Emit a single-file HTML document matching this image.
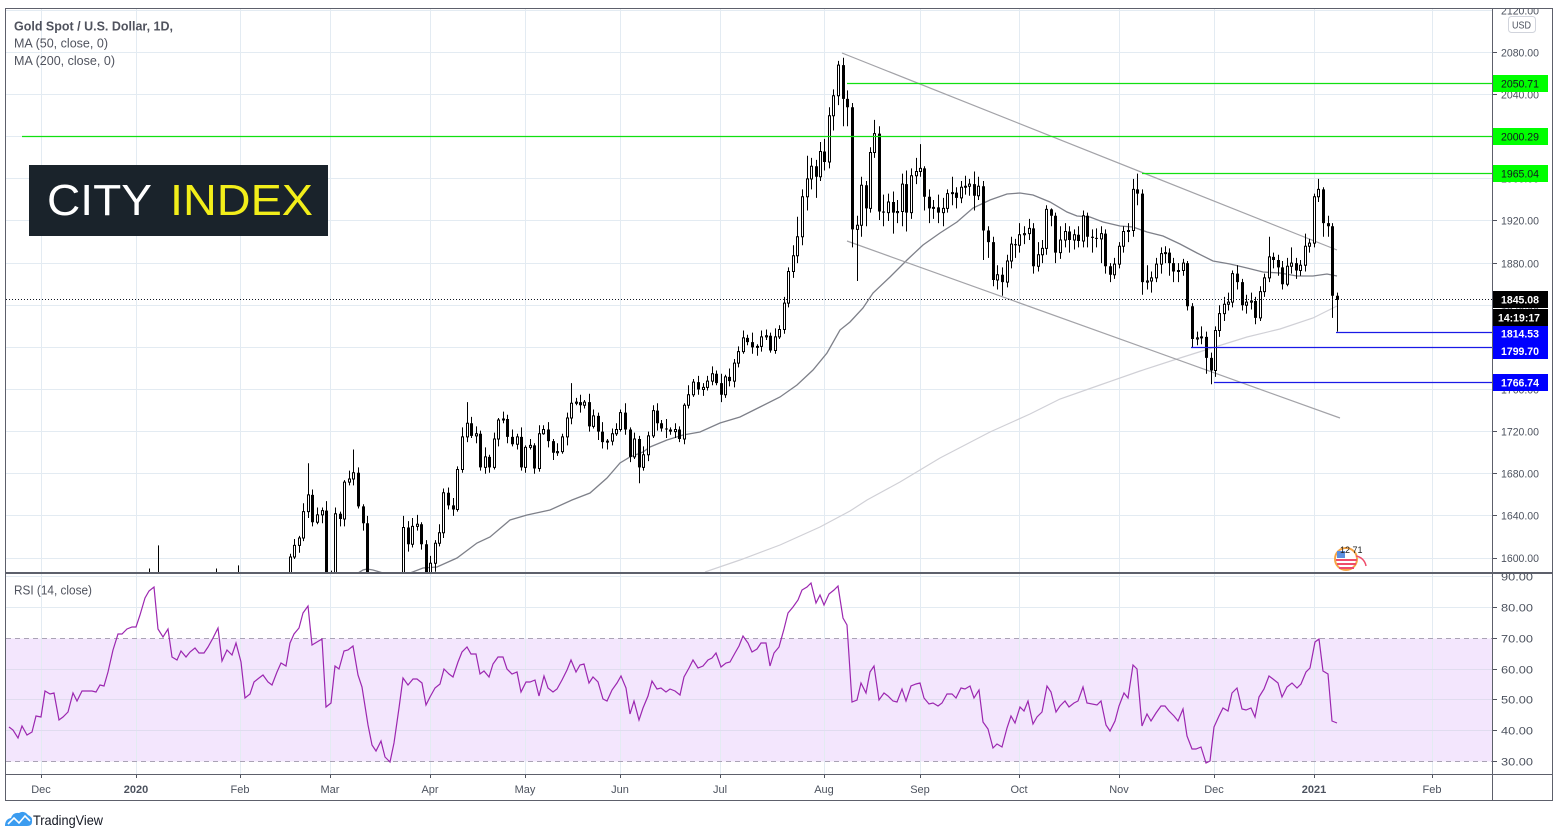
<!DOCTYPE html>
<html><head><meta charset="utf-8">
<style>
html,body{margin:0;padding:0;background:#fff;width:1559px;height:838px;overflow:hidden}
svg{display:block}
text{font-family:"Liberation Sans",sans-serif}
</style></head>
<body>
<svg width="1559" height="838" viewBox="0 0 1559 838" xmlns="http://www.w3.org/2000/svg">
<defs>
<clipPath id="pc"><rect x="6" y="9" width="1486" height="563"/></clipPath>
<clipPath id="rc"><rect x="6" y="574" width="1486" height="200"/></clipPath>
<clipPath id="ac"><rect x="1493" y="9" width="59" height="563"/></clipPath>
<clipPath id="ac2"><rect x="1493" y="574" width="59" height="200"/></clipPath>
</defs>
<rect x="0" y="0" width="1559" height="838" fill="#fff"/>

<rect x="6" y="638.5" width="1486" height="123" fill="#f3e6fd"/>

<g stroke="#e3ebf2" stroke-width="1">
<line x1="41.5" y1="9" x2="41.5" y2="774"/>
<line x1="136.5" y1="9" x2="136.5" y2="774"/>
<line x1="240.5" y1="9" x2="240.5" y2="774"/>
<line x1="330.5" y1="9" x2="330.5" y2="774"/>
<line x1="430.5" y1="9" x2="430.5" y2="774"/>
<line x1="525.5" y1="9" x2="525.5" y2="774"/>
<line x1="620.5" y1="9" x2="620.5" y2="774"/>
<line x1="720.5" y1="9" x2="720.5" y2="774"/>
<line x1="824.5" y1="9" x2="824.5" y2="774"/>
<line x1="920.5" y1="9" x2="920.5" y2="774"/>
<line x1="1019.5" y1="9" x2="1019.5" y2="774"/>
<line x1="1119.5" y1="9" x2="1119.5" y2="774"/>
<line x1="1214.5" y1="9" x2="1214.5" y2="774"/>
<line x1="1314.5" y1="9" x2="1314.5" y2="774"/>
<line x1="1432.5" y1="9" x2="1432.5" y2="774"/>
<line x1="6" y1="10.5" x2="1492" y2="10.5"/>
<line x1="6" y1="52.5" x2="1492" y2="52.5"/>
<line x1="6" y1="94.5" x2="1492" y2="94.5"/>
<line x1="6" y1="136.5" x2="1492" y2="136.5"/>
<line x1="6" y1="178.5" x2="1492" y2="178.5"/>
<line x1="6" y1="220.5" x2="1492" y2="220.5"/>
<line x1="6" y1="263.5" x2="1492" y2="263.5"/>
<line x1="6" y1="305.5" x2="1492" y2="305.5"/>
<line x1="6" y1="347.5" x2="1492" y2="347.5"/>
<line x1="6" y1="389.5" x2="1492" y2="389.5"/>
<line x1="6" y1="431.5" x2="1492" y2="431.5"/>
<line x1="6" y1="473.5" x2="1492" y2="473.5"/>
<line x1="6" y1="515.5" x2="1492" y2="515.5"/>
<line x1="6" y1="558.5" x2="1492" y2="558.5"/>
</g>
<g stroke="#e0dcef" stroke-width="1">
<line x1="6" y1="576.5" x2="1492" y2="576.5" stroke="#e3ebf2"/>
<line x1="6" y1="607.5" x2="1492" y2="607.5" stroke="#e3ebf2"/>
<line x1="6" y1="669.5" x2="1492" y2="669.5"/>
<line x1="6" y1="699.5" x2="1492" y2="699.5"/>
<line x1="6" y1="730.5" x2="1492" y2="730.5"/>
</g>
<g stroke="#aaa3b5" stroke-width="1" stroke-dasharray="5,4">
<line x1="6" y1="638.5" x2="1492" y2="638.5"/>
<line x1="6" y1="761.5" x2="1492" y2="761.5"/>
</g>

<g clip-path="url(#pc)">
<polyline fill="none" stroke="#d0d0d6" stroke-width="1.2" points="705,572 740,560 780,545 820,527 850,511 867,500 900,482 940,458 990,432 1030,414 1060,399 1100,385 1140,371 1180,358 1215,347 1247,337 1280,329 1313,318 1337,306"/>
<polyline fill="none" stroke="#7e8089" stroke-width="1.3" points="358,573 363,570 367,569 373,570 383,573 395,576 410,573 423,568 437,567 457,558 477,543 490,537 510,520 527,515 550,510 572,500 590,493 607,478 620,463 630,457 643,452 650,447 667,440 683,435 700,432 720,423 740,417 760,407 780,397 797,385 813,370 827,353 840,330 850,322 863,308 873,293 890,277 907,260 923,245 940,233 957,222 973,208 990,200 1007,194 1020,193 1033,195 1050,202 1067,212 1077,216 1090,217 1103,222 1120,226 1133,227 1147,232 1163,236 1180,244 1197,253 1213,261 1230,264 1247,268 1263,272 1280,273 1297,276 1313,276 1327,274 1337,276"/>
<line x1="842" y1="53" x2="1337" y2="250" stroke="#a3a3a8" stroke-width="1.2"/>
<line x1="847" y1="241" x2="1340" y2="418" stroke="#a3a3a8" stroke-width="1.2"/>

<g transform="matrix(1 0 0 -1.0531 0 2242.96)">
<path fill="none" stroke="#000" stroke-width="1" vector-effect="non-scaling-stroke" d="M149.5 1590V1570M158.5 1612V1570M216.5 1590V1570M238.5 1593V1570M290.5 1604V1581M294.5 1618V1599M299.5 1621V1605M303.5 1652V1616M308.5 1690V1638M312.5 1665V1630M317.5 1648V1632M322.5 1648V1633M326.5 1654V1575M331.5 1588V1580M335.5 1648V1584M340.5 1644V1630M344.5 1674V1630M349.5 1683V1669M353.5 1703V1669M358.5 1686V1647M363.5 1651V1626M367.5 1640V1570M403.5 1640V1555M408.5 1635V1606M412.5 1638V1610M417.5 1641V1626M421.5 1634V1608M426.5 1617V1572M430.5 1602V1575M435.5 1617V1587M439.5 1632V1611M443.5 1666V1619M448.5 1667V1646M453.5 1657V1640M457.5 1687V1644M462.5 1724V1681M467.5 1748V1710M471.5 1734V1714M476.5 1725V1709M480.5 1721V1683M485.5 1705V1680M489.5 1698V1681M494.5 1719V1684M498.5 1733V1706M503.5 1739V1728M507.5 1736V1709M512.5 1722V1706M517.5 1718V1703M521.5 1724V1683M525.5 1707V1681M530.5 1713V1703M534.5 1709V1680M539.5 1726V1682M543.5 1726V1717M548.5 1729V1705M553.5 1713V1693M557.5 1709V1697M562.5 1718V1699M567.5 1738V1707M571.5 1766V1727M576.5 1752V1745M580.5 1755V1738M584.5 1750V1742M589.5 1756V1720M593.5 1741V1723M598.5 1738V1712M602.5 1729V1704M607.5 1713V1703M612.5 1723V1707M616.5 1728V1716M620.5 1741V1720M625.5 1747V1717M630.5 1724V1691M634.5 1719V1694M639.5 1716V1671M643.5 1706V1683M648.5 1720V1692M653.5 1745V1714M657.5 1747V1721M661.5 1731V1720M666.5 1732V1714M670.5 1724V1717M675.5 1728V1714M679.5 1725V1710M684.5 1747V1708M688.5 1764V1742M693.5 1770V1753M698.5 1773V1755M703.5 1766V1754M707.5 1773V1759M712.5 1782V1764M716.5 1778V1764M721.5 1775V1748M725.5 1774V1752M729.5 1780V1763M734.5 1789V1762M738.5 1801V1781M743.5 1816V1794M747.5 1812V1802M752.5 1814V1794M757.5 1803V1792M761.5 1816V1796M766.5 1817V1807M770.5 1814V1795M775.5 1818V1794M779.5 1821V1808M784.5 1848V1813M788.5 1876V1838M793.5 1897V1866M797.5 1924V1880M802.5 1950V1897M807.5 1982V1930M811.5 1980V1950M816.5 1978V1942M820.5 1995V1958M824.5 1998V1968M829.5 2028V1970M833.5 2045V2006M838.5 2072V2030M843.5 2075V2010M847.5 2044V2010M852.5 2032V1895M857.5 1925V1863M861.5 1962V1905M866.5 1958V1915M870.5 1990V1928M874.5 2016V1980M879.5 2010V1921M883.5 1945V1915M888.5 1946V1920M893.5 1948V1908M897.5 1940V1918M902.5 1965V1915M906.5 1968V1910M911.5 1970V1922M916.5 1980V1955M920.5 1993V1962M924.5 1972V1930M929.5 1950V1918M933.5 1940V1922M938.5 1945V1918M943.5 1942V1915M947.5 1950V1928M952.5 1962V1935M956.5 1952V1932M961.5 1958V1937M965.5 1963V1945M969.5 1960V1944M974.5 1967V1930M978.5 1962V1940M983.5 1958V1883M988.5 1915V1885M993.5 1905V1858M997.5 1878V1855M1002.5 1876V1849M1007.5 1888V1857M1011.5 1905V1875M1015.5 1903V1885M1019.5 1918V1890M1024.5 1915V1898M1029.5 1922V1902M1033.5 1918V1870M1038.5 1900V1872M1042.5 1902V1880M1046.5 1935V1888M1051.5 1932V1915M1055.5 1928V1880M1060.5 1915V1884M1065.5 1918V1895M1069.5 1915V1890M1074.5 1912V1893M1078.5 1915V1895M1083.5 1930V1895M1087.5 1928V1895M1092.5 1912V1890M1096.5 1913V1895M1101.5 1915V1880M1105.5 1912V1870M1110.5 1880V1862M1114.5 1885V1865M1119.5 1900V1875M1123.5 1915V1890M1128.5 1918V1900M1133.5 1960V1905M1137.5 1965V1935M1142.5 1950V1850M1147.5 1878V1855M1151.5 1872V1852M1156.5 1885V1862M1161.5 1895V1870M1165.5 1896V1880M1169.5 1894V1868M1173.5 1885V1862M1178.5 1880V1862M1183.5 1884V1868M1187.5 1882V1835M1192.5 1842V1800M1197.5 1815V1802M1201.5 1820V1803M1206.5 1815V1775M1211.5 1795V1765M1215.5 1820V1772M1219.5 1840V1810M1224.5 1848V1825M1228.5 1852V1835M1232.5 1873V1838M1237.5 1878V1855M1242.5 1865V1835M1246.5 1850V1832M1251.5 1852V1836M1255.5 1848V1822M1260.5 1858V1825M1264.5 1870V1848M1269.5 1905V1862M1273.5 1890V1875M1278.5 1888V1868M1282.5 1882V1855M1287.5 1885V1858M1291.5 1895V1870M1296.5 1885V1865M1300.5 1883V1868M1305.5 1908V1872M1309.5 1903V1890M1314.5 1946V1895M1318.5 1960V1938M1323.5 1952V1905M1328.5 1925V1905M1332.5 1918V1828M1337.5 1852V1815"/>
<path fill="#000" d="M311 1660h3V1634h-3zM325 1645h3V1585h-3zM339 1642h3V1637h-3zM357 1681h3V1649h-3zM362 1649h3V1633h-3zM366 1633h3V1575h-3zM407 1629h3V1613h-3zM420 1632h3V1613h-3zM425 1613h3V1578h-3zM447 1662h3V1650h-3zM452 1650h3V1646h-3zM470 1728h3V1716h-3zM479 1718h3V1686h-3zM488 1696h3V1686h-3zM506 1732h3V1715h-3zM511 1715h3V1708h-3zM520 1715h3V1686h-3zM533 1707h3V1685h-3zM547 1722h3V1711h-3zM552 1711h3V1700h-3zM579 1748h3V1745h-3zM588 1748h3V1725h-3zM597 1735h3V1720h-3zM601 1720h3V1710h-3zM624 1738h3V1722h-3zM629 1722h3V1696h-3zM638 1713h3V1686h-3zM656 1740h3V1728h-3zM660 1728h3V1723h-3zM665 1723h3V1722h-3zM669 1722h3V1720h-3zM678 1722h3V1713h-3zM697 1767h3V1760h-3zM715 1775h3V1766h-3zM720 1766h3V1755h-3zM728 1772h3V1768h-3zM746 1809h3V1805h-3zM751 1805h3V1800h-3zM769 1811h3V1797h-3zM815 1972h3V1962h-3zM823 1986h3V1976h-3zM842 2068h3V2036h-3zM846 2036h3V2028h-3zM851 2028h3V1912h-3zM865 1954h3V1932h-3zM878 2003h3V1929h-3zM882 1929h3V1928h-3zM892 1938h3V1928h-3zM905 1955h3V1928h-3zM923 1970h3V1943h-3zM928 1943h3V1932h-3zM937 1933h3V1928h-3zM955 1947h3V1942h-3zM973 1955h3V1944h-3zM982 1953h3V1911h-3zM987 1911h3V1900h-3zM992 1900h3V1864h-3zM1001 1869h3V1862h-3zM1014 1898h3V1897h-3zM1032 1913h3V1877h-3zM1050 1931h3V1925h-3zM1054 1925h3V1890h-3zM1068 1910h3V1902h-3zM1077 1907h3V1901h-3zM1086 1925h3V1905h-3zM1091 1905h3V1904h-3zM1095 1904h3V1903h-3zM1104 1908h3V1877h-3zM1109 1877h3V1869h-3zM1136 1950h3V1946h-3zM1141 1946h3V1862h-3zM1168 1890h3V1880h-3zM1172 1880h3V1872h-3zM1186 1880h3V1839h-3zM1191 1839h3V1808h-3zM1205 1810h3V1790h-3zM1210 1790h3V1778h-3zM1236 1870h3V1862h-3zM1241 1862h3V1840h-3zM1254 1844h3V1828h-3zM1272 1886h3V1883h-3zM1277 1883h3V1876h-3zM1281 1876h3V1860h-3zM1295 1880h3V1873h-3zM1322 1950h3V1918h-3zM1327 1918h3V1915h-3zM1331 1915h3V1849h-3zM1336 1849h3V1845h-3z"/>
<path fill="#fff" stroke="#000" stroke-width="1" vector-effect="non-scaling-stroke" d="M289.5 1586h2V1601h-2zM293.5 1601h2V1612h-2zM298.5 1612h2V1619h-2zM302.5 1619h2V1644h-2zM307.5 1644h2V1660h-2zM316.5 1634h2V1641h-2zM321.5 1641h2V1645h-2zM330.5 1585h2V1586h-2zM334.5 1586h2V1642h-2zM343.5 1637h2V1672h-2zM348.5 1672h2V1675h-2zM352.5 1675h2V1681h-2zM402.5 1560h2V1629h-2zM411.5 1613h2V1630h-2zM416.5 1630h2V1632h-2zM429.5 1578h2V1595h-2zM434.5 1595h2V1614h-2zM438.5 1614h2V1624h-2zM442.5 1624h2V1662h-2zM456.5 1646h2V1684h-2zM461.5 1684h2V1715h-2zM466.5 1715h2V1728h-2zM475.5 1716h2V1718h-2zM484.5 1686h2V1696h-2zM493.5 1686h2V1713h-2zM497.5 1713h2V1731h-2zM502.5 1731h2V1732h-2zM516.5 1708h2V1715h-2zM524.5 1686h2V1705h-2zM529.5 1705h2V1707h-2zM538.5 1685h2V1718h-2zM542.5 1718h2V1722h-2zM556.5 1700h2V1701h-2zM561.5 1701h2V1715h-2zM566.5 1715h2V1733h-2zM570.5 1733h2V1747h-2zM575.5 1747h2V1748h-2zM583.5 1745h2V1748h-2zM592.5 1725h2V1735h-2zM606.5 1710h2V1711h-2zM611.5 1711h2V1718h-2zM615.5 1718h2V1722h-2zM619.5 1722h2V1738h-2zM633.5 1696h2V1713h-2zM642.5 1686h2V1698h-2zM647.5 1698h2V1716h-2zM652.5 1716h2V1740h-2zM674.5 1720h2V1722h-2zM683.5 1713h2V1745h-2zM687.5 1745h2V1755h-2zM692.5 1755h2V1767h-2zM702.5 1760h2V1762h-2zM706.5 1762h2V1768h-2zM711.5 1768h2V1775h-2zM724.5 1755h2V1772h-2zM733.5 1768h2V1785h-2zM737.5 1785h2V1796h-2zM742.5 1796h2V1809h-2zM756.5 1800h2V1801h-2zM760.5 1801h2V1810h-2zM765.5 1810h2V1811h-2zM774.5 1797h2V1810h-2zM778.5 1810h2V1817h-2zM783.5 1817h2V1842h-2zM787.5 1842h2V1872h-2zM792.5 1872h2V1887h-2zM796.5 1887h2V1905h-2zM801.5 1905h2V1943h-2zM806.5 1943h2V1960h-2zM810.5 1960h2V1972h-2zM819.5 1962h2V1986h-2zM828.5 1976h2V2020h-2zM832.5 2020h2V2039h-2zM837.5 2039h2V2068h-2zM856.5 1912h2V1916h-2zM860.5 1916h2V1954h-2zM869.5 1932h2V1985h-2zM873.5 1985h2V2003h-2zM887.5 1928h2V1938h-2zM896.5 1928h2V1929h-2zM901.5 1929h2V1955h-2zM910.5 1928h2V1963h-2zM915.5 1963h2V1967h-2zM919.5 1967h2V1970h-2zM932.5 1932h2V1933h-2zM942.5 1928h2V1932h-2zM946.5 1932h2V1946h-2zM951.5 1946h2V1947h-2zM960.5 1942h2V1952h-2zM964.5 1952h2V1953h-2zM968.5 1953h2V1955h-2zM977.5 1944h2V1953h-2zM996.5 1864h2V1869h-2zM1006.5 1862h2V1882h-2zM1010.5 1882h2V1898h-2zM1018.5 1897h2V1907h-2zM1023.5 1907h2V1908h-2zM1028.5 1908h2V1913h-2zM1037.5 1877h2V1888h-2zM1041.5 1888h2V1894h-2zM1045.5 1894h2V1931h-2zM1059.5 1890h2V1902h-2zM1064.5 1902h2V1910h-2zM1073.5 1902h2V1907h-2zM1082.5 1901h2V1925h-2zM1100.5 1903h2V1908h-2zM1113.5 1869h2V1879h-2zM1118.5 1879h2V1896h-2zM1122.5 1896h2V1910h-2zM1127.5 1910h2V1911h-2zM1132.5 1911h2V1950h-2zM1146.5 1862h2V1863h-2zM1150.5 1863h2V1866h-2zM1155.5 1866h2V1879h-2zM1160.5 1879h2V1889h-2zM1164.5 1889h2V1890h-2zM1177.5 1872h2V1873h-2zM1182.5 1873h2V1880h-2zM1196.5 1808h2V1809h-2zM1200.5 1809h2V1810h-2zM1214.5 1778h2V1816h-2zM1218.5 1816h2V1832h-2zM1223.5 1832h2V1841h-2zM1227.5 1841h2V1843h-2zM1231.5 1843h2V1870h-2zM1245.5 1840h2V1843h-2zM1250.5 1843h2V1844h-2zM1259.5 1828h2V1853h-2zM1263.5 1853h2V1866h-2zM1268.5 1866h2V1886h-2zM1286.5 1860h2V1877h-2zM1290.5 1877h2V1880h-2zM1299.5 1873h2V1878h-2zM1304.5 1878h2V1896h-2zM1308.5 1896h2V1899h-2zM1313.5 1899h2V1943h-2zM1317.5 1943h2V1950h-2z"/>
</g>

<line x1="6" y1="299.5" x2="1492" y2="299.5" stroke="#131722" stroke-width="1" stroke-dasharray="1,2"/>
<line x1="22" y1="136.5" x2="1492" y2="136.5" stroke="#11e011" stroke-width="1.3"/>
<line x1="847" y1="83.5" x2="1492" y2="83.5" stroke="#11e011" stroke-width="1.3"/>
<line x1="1142" y1="173.5" x2="1492" y2="173.5" stroke="#11e011" stroke-width="1.3"/>
<line x1="1336" y1="332.5" x2="1492" y2="332.5" stroke="#1a1ae6" stroke-width="1.3"/>
<line x1="1191" y1="347.5" x2="1492" y2="347.5" stroke="#1a1ae6" stroke-width="1.3"/>
<line x1="1214" y1="382.5" x2="1492" y2="382.5" stroke="#1a1ae6" stroke-width="1.3"/>
<g>
<circle cx="1346" cy="559" r="11" fill="#fff" stroke="#f6a445" stroke-width="2"/>
<path d="M1336 560 H1357 M1337 564 H1356 M1339 568 H1354" stroke="#ef4c6a" stroke-width="2"/>
<rect x="1337" y="551" width="8" height="7" fill="#5b8fe0"/>
<path d="M1356 556 a12 12 0 0 1 10 10" stroke="#ef4c6a" stroke-width="1.5" fill="none"/>
<text x="1340" y="553" font-size="9" fill="#222">12 71</text>
</g>
</g>

<g clip-path="url(#rc)">
<polyline fill="none" stroke="#9c27b0" stroke-width="1.2" points="9,727 13,730 18,738 22,726 27,735 32,732 36,716 41,717 45,691 50,694 54,693 59,720 63,717 68,712 73,693 77,701 82,691 92,691 96,692 100,685 104,686 108,672 113,650 118,634 122,634 127,629 132,627 136,627 140,615 145,598 149,591 154,587 158,629 163,637 168,629 172,657 177,660 181,651 186,657 190,652 195,648 199,653 204,653 208,647 213,638 218,628 222,661 227,650 232,655 236,643 241,662 245,698 250,694 254,682 259,678 263,675 268,682 272,685 277,672 281,663 286,666 290,643 294,634 299,628 303,613 308,606 312,645 317,642 322,639 326,707 331,703 335,666 339,669 344,651 348,650 353,646 358,675 362,687 368,725 372,745 376,751 381,741 385,757 390,762 394,743 399,708 403,678 408,685 413,679 417,679 422,683 426,705 430,697 435,688 440,684 444,669 449,674 453,677 458,662 462,652 467,647 471,654 476,654 480,674 484,671 489,677 493,664 498,657 503,657 507,669 512,674 517,672 521,692 526,682 530,682 535,680 539,696 544,676 548,688 553,692 557,689 562,680 567,670 571,660 576,672 580,665 584,664 589,683 593,677 598,682 603,699 607,701 612,690 617,683 621,676 626,688 630,714 634,701 639,720 643,708 648,696 652,681 657,689 661,688 666,692 670,689 675,691 680,695 684,677 689,668 693,660 698,668 703,666 708,660 712,658 716,653 721,667 726,663 730,662 735,653 739,646 743,636 748,643 752,652 757,649 761,643 766,643 770,666 774,653 779,647 784,629 788,613 793,607 798,600 802,590 807,587 811,583 816,603 820,595 824,605 829,594 834,590 838,586 843,618 847,625 852,702 857,700 861,683 866,693 870,672 874,666 879,700 884,693 888,696 893,701 897,702 902,689 906,701 911,686 916,684 920,683 924,698 929,704 933,703 938,706 942,703 947,694 952,694 956,698 961,688 965,689 970,686 974,698 979,690 983,722 988,729 993,748 997,744 1002,747 1007,728 1011,716 1015,723 1020,707 1024,711 1028,701 1033,724 1037,717 1042,712 1047,686 1051,692 1056,712 1060,706 1065,701 1069,707 1074,703 1078,701 1083,687 1087,703 1097,705 1101,701 1106,725 1110,731 1115,721 1119,706 1124,693 1128,698 1133,665 1137,669 1142,726 1147,714 1151,721 1156,713 1161,706 1165,706 1169,711 1174,716 1178,721 1183,709 1187,736 1192,749 1196,749 1201,747 1206,763 1210,761 1214,727 1219,716 1223,708 1228,711 1232,693 1237,688 1242,709 1246,710 1251,708 1255,717 1259,697 1264,689 1269,676 1273,679 1278,683 1282,697 1287,687 1292,683 1297,688 1301,684 1306,672 1310,668 1315,642 1319,639 1323,671 1328,674 1332,721 1337,723"/>
</g>

<text x="14" y="30.5" font-size="13" font-weight="bold" fill="#50535e" textLength="159" lengthAdjust="spacingAndGlyphs">Gold Spot / U.S. Dollar, 1D,</text>
<text x="14" y="47.5" font-size="13" fill="#50535e" textLength="94" lengthAdjust="spacingAndGlyphs">MA (50, close, 0)</text>
<text x="14" y="65" font-size="13" fill="#50535e" textLength="101" lengthAdjust="spacingAndGlyphs">MA (200, close, 0)</text>
<text x="14" y="594.5" font-size="13" fill="#50535e" textLength="78" lengthAdjust="spacingAndGlyphs">RSI (14, close)</text>

<rect x="29" y="165" width="299" height="71" fill="#1a232b"/>
<text x="47" y="215" font-size="44" fill="#ffffff" textLength="105" lengthAdjust="spacingAndGlyphs">CITY</text>
<text x="170" y="215" font-size="44" fill="#f2ee1a" textLength="143" lengthAdjust="spacingAndGlyphs">INDEX</text>

<g font-size="11" fill="#4c525e">
<g clip-path="url(#ac)">
<text x="1501" y="14.5" textLength="38" lengthAdjust="spacingAndGlyphs">2120.00</text>
<text x="1501" y="56.5" textLength="38" lengthAdjust="spacingAndGlyphs">2080.00</text>
<text x="1501" y="98.5" textLength="38" lengthAdjust="spacingAndGlyphs">2040.00</text>
<text x="1501" y="140.5" textLength="38" lengthAdjust="spacingAndGlyphs">2000.00</text>
<text x="1501" y="182.5" textLength="38" lengthAdjust="spacingAndGlyphs">1960.00</text>
<text x="1501" y="224.5" textLength="38" lengthAdjust="spacingAndGlyphs">1920.00</text>
<text x="1501" y="267.5" textLength="38" lengthAdjust="spacingAndGlyphs">1880.00</text>
<text x="1501" y="309.5" textLength="38" lengthAdjust="spacingAndGlyphs">1840.00</text>
<text x="1501" y="351.5" textLength="38" lengthAdjust="spacingAndGlyphs">1800.00</text>
<text x="1501" y="393.5" textLength="38" lengthAdjust="spacingAndGlyphs">1760.00</text>
<text x="1501" y="435.5" textLength="38" lengthAdjust="spacingAndGlyphs">1720.00</text>
<text x="1501" y="477.5" textLength="38" lengthAdjust="spacingAndGlyphs">1680.00</text>
<text x="1501" y="519.5" textLength="38" lengthAdjust="spacingAndGlyphs">1640.00</text>
<text x="1501" y="562" textLength="38" lengthAdjust="spacingAndGlyphs">1600.00</text>
</g>
<g clip-path="url(#ac2)">
<text x="1501" y="580.5" textLength="32" lengthAdjust="spacingAndGlyphs">90.00</text>
<text x="1501" y="611.5" textLength="32" lengthAdjust="spacingAndGlyphs">80.00</text>
<text x="1501" y="642.5" textLength="32" lengthAdjust="spacingAndGlyphs">70.00</text>
<text x="1501" y="673.5" textLength="32" lengthAdjust="spacingAndGlyphs">60.00</text>
<text x="1501" y="703.5" textLength="32" lengthAdjust="spacingAndGlyphs">50.00</text>
<text x="1501" y="734.5" textLength="32" lengthAdjust="spacingAndGlyphs">40.00</text>
<text x="1501" y="765.5" textLength="32" lengthAdjust="spacingAndGlyphs">30.00</text>
</g>
</g>
<g stroke="#50535e" stroke-width="1">
<line x1="1492" y1="52.5" x2="1497" y2="52.5"/>
<line x1="1492" y1="94.5" x2="1497" y2="94.5"/>
<line x1="1492" y1="220.5" x2="1497" y2="220.5"/>
<line x1="1492" y1="263.5" x2="1497" y2="263.5"/>
<line x1="1492" y1="431.5" x2="1497" y2="431.5"/>
<line x1="1492" y1="473.5" x2="1497" y2="473.5"/>
<line x1="1492" y1="515.5" x2="1497" y2="515.5"/>
<line x1="1492" y1="558.5" x2="1497" y2="558.5"/>
<line x1="1492" y1="607.5" x2="1497" y2="607.5"/>
<line x1="1492" y1="638.5" x2="1497" y2="638.5"/>
<line x1="1492" y1="669.5" x2="1497" y2="669.5"/>
<line x1="1492" y1="699.5" x2="1497" y2="699.5"/>
<line x1="1492" y1="730.5" x2="1497" y2="730.5"/>
<line x1="1492" y1="761.5" x2="1497" y2="761.5"/>
</g>
<rect x="1508.5" y="16.5" width="27" height="16" rx="3" fill="#fff" stroke="#d1d4dc"/>
<text x="1512" y="28.5" font-size="10" fill="#4c525e" textLength="19" lengthAdjust="spacingAndGlyphs">USD</text>

<rect x="1492" y="75" width="56" height="17" fill="#00ff00"/>
<text x="1501" y="87.5" font-size="11" fill="#131722" textLength="38" lengthAdjust="spacingAndGlyphs">2050.71</text>
<rect x="1492" y="128" width="56" height="17" fill="#00ff00"/>
<text x="1501" y="140.5" font-size="11" fill="#131722" textLength="38" lengthAdjust="spacingAndGlyphs">2000.29</text>
<rect x="1492" y="165" width="56" height="17" fill="#00ff00"/>
<text x="1501" y="177.5" font-size="11" fill="#131722" textLength="38" lengthAdjust="spacingAndGlyphs">1965.04</text>
<rect x="1492" y="291" width="56" height="17" fill="#000"/>
<text x="1501" y="303.5" font-size="11" font-weight="bold" fill="#fff" textLength="38" lengthAdjust="spacingAndGlyphs">1845.08</text>
<rect x="1492" y="309" width="56" height="17" fill="#000"/>
<text x="1498" y="321.5" font-size="11" font-weight="bold" fill="#fff" textLength="42" lengthAdjust="spacingAndGlyphs">14:19:17</text>
<rect x="1492" y="326" width="56" height="33" fill="#0000ff"/>
<text x="1501" y="337.5" font-size="11" font-weight="bold" fill="#fff" textLength="38" lengthAdjust="spacingAndGlyphs">1814.53</text>
<text x="1501" y="355" font-size="11" font-weight="bold" fill="#fff" textLength="38" lengthAdjust="spacingAndGlyphs">1799.70</text>
<rect x="1492" y="374" width="56" height="17" fill="#0000ff"/>
<text x="1501" y="386.5" font-size="11" font-weight="bold" fill="#fff" textLength="38" lengthAdjust="spacingAndGlyphs">1766.74</text>

<g font-size="11" fill="#4c525e" text-anchor="middle">
<text x="41" y="793">Dec</text>
<text x="136" y="793" font-weight="bold">2020</text>
<text x="240" y="793">Feb</text>
<text x="330" y="793">Mar</text>
<text x="430" y="793">Apr</text>
<text x="525" y="793">May</text>
<text x="620" y="793">Jun</text>
<text x="720" y="793">Jul</text>
<text x="824" y="793">Aug</text>
<text x="920" y="793">Sep</text>
<text x="1019" y="793">Oct</text>
<text x="1119" y="793">Nov</text>
<text x="1214" y="793">Dec</text>
<text x="1314" y="793" font-weight="bold">2021</text>
<text x="1432" y="793">Feb</text>
</g>
<g stroke="#50535e" stroke-width="1">
<line x1="41.5" y1="774" x2="41.5" y2="778"/>
<line x1="136.5" y1="774" x2="136.5" y2="778"/>
<line x1="240.5" y1="774" x2="240.5" y2="778"/>
<line x1="330.5" y1="774" x2="330.5" y2="778"/>
<line x1="430.5" y1="774" x2="430.5" y2="778"/>
<line x1="525.5" y1="774" x2="525.5" y2="778"/>
<line x1="620.5" y1="774" x2="620.5" y2="778"/>
<line x1="720.5" y1="774" x2="720.5" y2="778"/>
<line x1="824.5" y1="774" x2="824.5" y2="778"/>
<line x1="920.5" y1="774" x2="920.5" y2="778"/>
<line x1="1019.5" y1="774" x2="1019.5" y2="778"/>
<line x1="1119.5" y1="774" x2="1119.5" y2="778"/>
<line x1="1214.5" y1="774" x2="1214.5" y2="778"/>
<line x1="1314.5" y1="774" x2="1314.5" y2="778"/>
<line x1="1432.5" y1="774" x2="1432.5" y2="778"/>
</g>

<g stroke="#5d606b" fill="none">
<rect x="5.5" y="8.5" width="1547" height="792" stroke-width="1"/>
<line x1="1492.5" y1="8" x2="1492.5" y2="801" stroke-width="1"/>
<line x1="5" y1="573" x2="1553" y2="573" stroke-width="2"/>
<line x1="5" y1="774.5" x2="1553" y2="774.5" stroke-width="1"/>
</g>

<g>
<path d="M5 826 Q5 819 11 818 Q13 812 19 813 Q24 810 28 815 Q33 817 32 822 Q32 826 27 826 Z" fill="#3b9cf0"/>
<polyline points="8,824 14,818 19,823 25,816 30,821" fill="none" stroke="#fff" stroke-width="1.6"/>
<text x="33" y="825" font-size="14" fill="#131722" textLength="70" lengthAdjust="spacingAndGlyphs">TradingView</text>
</g>
</svg>
</body></html>
